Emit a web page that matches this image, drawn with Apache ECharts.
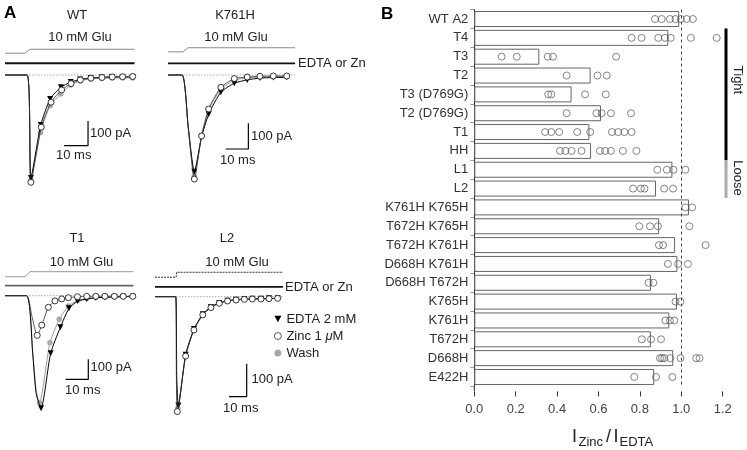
<!DOCTYPE html>
<html><head><meta charset="utf-8">
<script src="https://cdn.jsdelivr.net/npm/echarts@6/dist/echarts.min.js"></script>
<style>html,body{margin:0;padding:0;background:#fff}#c{width:747px;height:450px}</style>
</head><body><div id="c"></div>
<script>
// ---------- Panel B data ----------
const categories = ['WT A2','T4','T3','T2','T3 (D769G)','T2 (D769G)','T1','HH','L1','L2','K761H K765H','T672H K765H','T672H K761H','D668H K761H','D668H T672H','K765H','K761H','T672H','D668H','E422H'];
const meanRatio = [0.99,0.937,0.314,0.562,0.47,0.612,0.556,0.564,0.957,0.878,1.037,0.893,0.970,0.981,0.854,0.979,0.942,0.853,0.961,0.869];
const cellRatios = [
  [0.873,0.905,0.945,0.972,0.998,1.026,1.056],
  [0.76,0.808,0.889,0.921,0.949,1.046,1.171],
  [0.132,0.205,0.355,0.38,0.685],
  [0.446,0.595,0.64],
  [0.357,0.372,0.535,0.635],
  [0.446,0.59,0.615,0.66,0.757],
  [0.342,0.372,0.41,0.497,0.56,0.665,0.695,0.725,0.76],
  [0.414,0.44,0.47,0.518,0.607,0.632,0.66,0.718,0.783],
  [0.884,0.93,0.962,1.02],
  [0.767,0.805,0.822,0.917,0.96],
  [1.02,1.052],
  [0.797,0.849,0.887,1.039],
  [0.892,0.912,1.117],
  [0.935,0.985,1.032],
  [0.842,0.865],
  [0.972,0.996],
  [0.923,0.945,0.966],
  [0.809,0.854,0.902],
  [0.897,0.907,0.918,0.947,0.996,1.072,1.088],
  [0.773,0.878,0.957]
];
const xTicks = [0, 0.2, 0.4, 0.6, 0.8, 1.0, 1.2];
const tightRows = [1, 7];   // T4 .. HH
const looseRows = [8, 9];   // L1 .. L2

// ---------- Panel A data (t in ms, I in pA) ----------
const wtGlu = [[0,89],[8.3,89],[10.4,105],[54,105]];
const wtEdtaBar = 48;
const wtEdta = [[0,0],[9.2,0],[10.8,-420],[14.9,-204],[18.8,-98],[23.3,-50],[27.4,-29],[31.3,-18],[35.7,-12],[40.3,-10],[44.6,-8],[49,-8],[53.2,-8]];
const wtZinc = [[0,0],[9.2,0],[10.8,-438],[15.1,-213],[19.2,-111],[23.6,-61],[27.5,-35],[31.4,-20],[35.8,-13],[40.4,-10],[44.7,-8],[49,-7],[53.2,-6]];
const wtWash = [[0,0],[9.2,0],[10.8,-430],[14.8,-235],[18.8,-125],[23.2,-78],[27.4,-41],[31.3,-24],[35.7,-16],[40.3,-14],[44.6,-12],[49,-12],[53.2,-12]];
const wtScale = [[24.6,-288],[34.6,-288],[34.6,-188]];

const kGlu = [[0,90],[6.6,90],[8.8,106],[56,106]];
const kEdtaBar = 45.5;
const kEdta = [[0,0],[6.2,0],[8.9,-201],[11.6,-376],[14.8,-241],[17.9,-153],[23.3,-67],[29.2,-32],[34.9,-19],[40.5,-12],[46.4,-10],[52.3,-9]];
const kZinc = [[0,0],[6.2,0],[8.9,-205],[11.6,-405],[14.8,-237],[17.9,-132],[23.3,-48],[29.2,-14],[34.9,-8],[40.5,-5],[46.4,-4],[52.3,-4]];
const kWash = [[0,0],[6.2,0],[8.9,-203],[11.6,-395],[14.8,-235],[17.9,-136],[23.3,-55],[29.2,-20],[34.9,-11],[40.5,-8],[46.4,-6],[52.3,-6]];
const kScale = [[25.4,-288],[35.4,-288],[35.4,-188]];

const t1Glu = [[0,95],[8.8,95],[11,120],[56.6,120]];
const t1EdtaBar = 50;
const t1Edta = [[0,0],[9.5,0],[12.2,-288],[13.7,-488],[15.9,-563],[20.1,-288],[24.4,-158],[28.2,-63],[32,-27],[36,-17],[40,-10],[44,-8],[48.2,-7],[52.1,-5],[56.3,-5]];
const t1Zinc = [[0,0],[9.5,0],[11.8,-100],[14.2,-198],[16.2,-147],[19.1,-58],[22,-26],[25,-16],[27.9,-10],[31.9,-5],[36,-3],[40,-3],[44,-3],[48.2,-3],[52.1,-3],[56.3,-3]];
const t1Wash = [[0,0],[9.5,0],[12.2,-280],[13.7,-470],[15.2,-535],[19.8,-235],[23.9,-118],[27.9,-52],[32,-24],[36,-14],[40,-9],[44,-7],[48.2,-6],[52.1,-5],[56.3,-4]];
const t1Scale = [[26.7,-418],[36.7,-418],[36.7,-318]];

const l2Glu = [[0,59],[11.9,59],[12.2,74],[72.3,74]];
const l2EdtaBar = 30;
const l2Edta = [[0,0],[11.7,0],[12.3,-250],[13.2,-330],[17.3,-176],[22,-98],[27,-53],[31.6,-31],[36.3,-19],[41,-12],[45.8,-9],[50.5,-7],[55,-6],[59.9,-6],[64.4,-5],[69.3,-5]];
const l2Zinc = [[0,0],[11.7,0],[12.1,-250],[12.6,-348],[17.3,-180],[22,-101],[27,-55],[31.6,-33],[36.3,-20],[41,-13],[45.8,-10],[50.5,-8],[55,-7],[59.9,-7],[64.4,-6],[69.3,-5]];
const l2Wash = [[0,0],[11.7,0],[12.2,-250],[12.9,-338],[17.3,-178],[22,-100],[27,-54],[31.6,-32],[36.3,-20],[41,-13],[45.8,-9],[50.5,-8],[55,-7],[59.9,-6],[64.4,-6],[69.3,-5]];
const l2Scale = [[41.8,-303],[51.8,-303],[51.8,-203]];

const legendNames = ['EDTA 2 mM', 'Zinc 1 μM', 'Wash'];

// ---------- layout ----------
const FONT = '"Liberation Sans", Arial, Helvetica, sans-serif';
const TXT = '#222';
const B = {left: 474.3, top: 9.6, width: 248.4, height: 376.8};
const panels = [
  {x0: 5,   y0: 75,    sx: 2.4,  sy: 0.245, tMax: 54,   top: 40,  bottom: 205, glu: wtGlu, bar: wtEdtaBar, edta: wtEdta, zinc: wtZinc, wash: wtWash, scale: wtScale, gluColor: '#8a8a8a', gluType: 'solid', barColor: '#111'},
  {x0: 168, y0: 75,    sx: 2.27, sy: 0.257, tMax: 56,   top: 40,  bottom: 205, glu: kGlu, bar: kEdtaBar, edta: kEdta, zinc: kZinc, wash: kWash, scale: kScale, gluColor: '#8a8a8a', gluType: 'solid', barColor: '#111'},
  {x0: 5,   y0: 295.7, sx: 2.27, sy: 0.20,  tMax: 56.6, top: 262, bottom: 425, glu: t1Glu, bar: t1EdtaBar, edta: t1Edta, zinc: t1Zinc, wash: t1Wash, scale: t1Scale, gluColor: '#999', gluType: 'solid', barColor: '#666'},
  {x0: 155, y0: 296.7, sx: 1.77, sy: 0.33,  tMax: 72.3, top: 262, bottom: 425, glu: l2Glu, bar: l2EdtaBar, edta: l2Edta, zinc: l2Zinc, wash: l2Wash, scale: l2Scale, gluColor: '#333', gluType: [2,1], barColor: '#111'}
];

const grids = [{left: B.left, top: B.top, width: B.width, height: B.height}];
const xAxes = [{
  type: 'value', gridIndex: 0, min: xTicks[0], max: xTicks[xTicks.length-1], interval: 0.2, offset: 5,
  axisLine: {lineStyle: {color: '#222', width: 1}},
  axisTick: {show: true, length: 5, lineStyle: {color: '#333'}},
  axisLabel: {margin: 12, color: '#444', fontFamily: FONT, fontSize: 13, formatter: v => v.toFixed(1)},
  splitLine: {show: false}
}];
const yAxes = [{
  type: 'category', gridIndex: 0, data: categories, inverse: true,
  axisLine: {lineStyle: {color: '#222', width: 1}},
  axisTick: {show: true, length: 4, lineStyle: {color: '#999'}},
  axisLabel: {interval: 0, margin: 6, color: '#333', fontFamily: FONT, fontSize: 13}
}];
panels.forEach((p, i) => {
  grids.push({left: p.x0, top: p.top, width: p.tMax * p.sx, height: p.bottom - p.top});
  xAxes.push({type: 'value', gridIndex: i+1, min: 0, max: p.tMax, show: false});
  yAxes.push({type: 'value', gridIndex: i+1, min: -(p.bottom - p.y0) / p.sy, max: (p.y0 - p.top) / p.sy, show: false});
});

const series = [];
series.push({
  type: 'bar', xAxisIndex: 0, yAxisIndex: 0, data: meanRatio, barWidth: 16, z: 2,
  itemStyle: {color: '#fff', borderColor: '#666', borderWidth: 1},
  markLine: {silent: true, symbol: 'none', label: {show: false},
    lineStyle: {type: [3, 3], color: '#444', width: 1}, data: [{xAxis: 1}]}
});
const pts = [];
cellRatios.forEach((arr, i) => arr.forEach(v => pts.push([v, categories[i]])));
series.push({
  type: 'scatter', xAxisIndex: 0, yAxisIndex: 0, data: pts, symbol: 'circle', symbolSize: 7, z: 4,
  itemStyle: {color: 'rgba(255,255,255,0)', borderColor: '#555', borderWidth: 0.9}
});

function peakIndex(d) { let k = 0; d.forEach((p, i) => { if (p[1] < d[k][1]) k = i; }); return k; }
function trace(name, d, gi, opt) {
  const k = peakIndex(d);
  return Object.assign({
    type: 'line', name, xAxisIndex: gi, yAxisIndex: gi, smooth: 0.2,
    showSymbol: true, showAllSymbol: true, clip: false,
    data: d.map((p, i) => i < k ? {value: p, symbol: 'none'} : p)
  }, opt);
}

panels.forEach((p, i) => {
  const gi = i + 1;
  series.push({type: 'line', xAxisIndex: gi, yAxisIndex: gi, data: p.glu, symbol: 'none', z: 2,
    lineStyle: {color: p.gluColor, width: 1, type: p.gluType}});
  series.push({type: 'line', xAxisIndex: gi, yAxisIndex: gi, data: [[0, p.bar], [p.tMax, p.bar]], symbol: 'none', z: 2,
    lineStyle: {color: p.barColor, width: 1.8}});
  series.push({type: 'line', xAxisIndex: gi, yAxisIndex: gi, data: [[0, 0], [p.tMax, 0]], symbol: 'none', z: 1,
    lineStyle: {color: '#aaa', width: 1, type: [1.5, 1.5]}});
  series.push(trace(legendNames[2], p.wash, gi, {symbol: 'circle', symbolSize: 5.5, z: 3,
    lineStyle: {color: '#9a9a9a', width: 1}, itemStyle: {color: '#a8a8a8', borderWidth: 0}}));
  series.push(trace(legendNames[0], p.edta, gi, {symbol: 'triangle', symbolRotate: 180, symbolSize: 6, z: 4,
    lineStyle: {color: '#000', width: 1}, itemStyle: {color: '#000', borderWidth: 0}}));
  series.push(trace(legendNames[1], p.zinc, gi, {symbol: 'circle', symbolSize: 6, z: 5,
    lineStyle: {color: '#333', width: 0.8}, itemStyle: {color: '#fff', borderColor: '#222', borderWidth: 0.9}}));
  series.push({type: 'line', xAxisIndex: gi, yAxisIndex: gi, data: p.scale, symbol: 'none', z: 2,
    lineStyle: {color: '#000', width: 1.2}});
});

function txt(x, y, s, size, align, extra) {
  return Object.assign({type: 'text', x, y, silent: true,
    style: {text: s, font: (size || 13) + 'px ' + FONT, fill: TXT,
      align: align || 'center', verticalAlign: 'middle', textAlign: align || 'center', textVerticalAlign: 'middle'}}, extra || {});
}
const band = B.height / categories.length;
const graphics = [
  txt(4, 13, 'A', 17, 'left', {style: {text: 'A', font: 'bold 17px ' + FONT, fill: '#000', align: 'left', verticalAlign: 'middle', textAlign: 'left', textVerticalAlign: 'middle'}}),
  txt(381, 14, 'B', 17, 'left', {style: {text: 'B', font: 'bold 17px ' + FONT, fill: '#000', align: 'left', verticalAlign: 'middle', textAlign: 'left', textVerticalAlign: 'middle'}}),
  txt(77, 15, 'WT'), txt(80, 37.5, '10 mM Glu'),
  txt(235, 15, 'K761H'), txt(236, 37.5, '10 mM Glu'),
  txt(298, 63.5, 'EDTA or Zn', 13, 'left'),
  txt(90, 133.5, '100 pA', 13, 'left'), txt(56, 155, '10 ms', 13, 'left'),
  txt(251, 136.5, '100 pA', 13, 'left'), txt(220, 160, '10 ms', 13, 'left'),
  txt(77, 238.5, 'T1'), txt(81.5, 262, '10 mM Glu'),
  txt(90.5, 367, '100 pA', 13, 'left'), txt(65, 390, '10 ms', 13, 'left'),
  txt(227, 238.5, 'L2'), txt(237, 262, '10 mM Glu'),
  txt(285, 287.5, 'EDTA or Zn', 13, 'left'),
  txt(251.5, 379.5, '100 pA', 13, 'left'), txt(223, 408.5, '10 ms', 13, 'left'),
  // bracket for Tight / Loose
  {type: 'line', silent: true, shape: {x1: 726, y1: B.top + tightRows[0] * band, x2: 726, y2: B.top + (tightRows[1] + 1) * band}, style: {stroke: '#000', lineWidth: 3}},
  {type: 'line', silent: true, shape: {x1: 726, y1: B.top + looseRows[0] * band, x2: 726, y2: B.top + (looseRows[1] + 1) * band}, style: {stroke: '#aaa', lineWidth: 3}},
  txt(738, 80, 'Tight', 13, 'center', {rotation: -Math.PI / 2}),
  txt(738, 178, 'Loose', 13, 'center', {rotation: -Math.PI / 2}),
  // y axis extension down to x axis
  {type: 'line', silent: true, shape: {x1: B.left, y1: B.top + B.height, x2: B.left, y2: B.top + B.height + 5}, style: {stroke: '#222', lineWidth: 1}},
  // x axis title
  txt(572, 437, 'I', 18, 'left'),
  txt(578.5, 442, 'Zinc', 13, 'left'),
  txt(606, 437, '/', 18, 'left'),
  txt(613.5, 437, 'I', 18, 'left'),
  txt(619.5, 442, 'EDTA', 13, 'left')
];

const chart = echarts.init(document.getElementById('c'), null, {renderer: 'canvas'});
chart.setOption({
  animation: false,
  backgroundColor: '#fff',
  textStyle: {fontFamily: FONT},
  grid: grids, xAxis: xAxes, yAxis: yAxes, series,
  legend: {
    orient: 'vertical', left: 269, top: 307, itemWidth: 7, itemHeight: 7, itemGap: 3, selectedMode: false,
    data: [
      {name: legendNames[0], icon: 'path://M0,0 L10,0 L5,9 Z', itemStyle: {color: '#000', borderWidth: 0}},
      {name: legendNames[1], icon: 'circle', itemStyle: {color: '#fff', borderColor: '#333', borderWidth: 0.8}},
      {name: legendNames[2], icon: 'circle', itemStyle: {color: '#a8a8a8', borderWidth: 0}}
    ],
    formatter: n => n === legendNames[1] ? 'Zinc 1 {i|μ}M' : n,
    textStyle: {fontFamily: FONT, fontSize: 13, color: TXT, lineHeight: 14,
      rich: {i: {fontStyle: 'italic', fontFamily: FONT, fontSize: 13, color: TXT}}}
  },
  graphic: graphics
});
</script></body></html>
